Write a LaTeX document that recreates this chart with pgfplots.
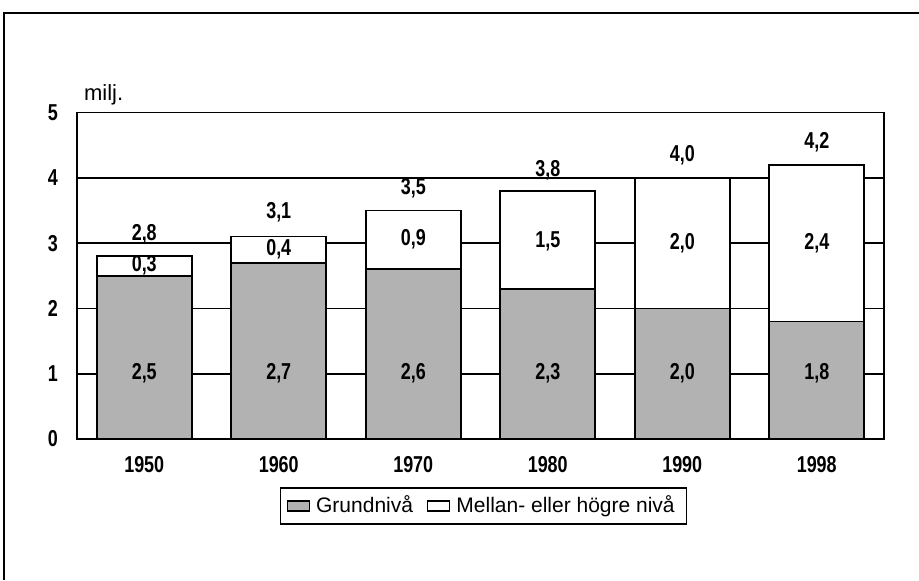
\documentclass[border=0pt]{standalone}
\usepackage{fontspec}
\setmainfont{Liberation Sans}
\newfontfamily\condfont{Liberation Sans}[FakeStretch=0.78]
\usepackage{pgfplots}
\usepackage{pgfplotstable}
\pgfplotsset{compat=1.18}
\definecolor{grund}{RGB}{178,178,178}
\tikzset{lbl/.style={font=\condfont\fontsize{11.5}{13}\selectfont\bfseries}}

% x: 0=1950 ... 5=1998, values in millions
\pgfplotstableread{
x grund mellan
0 2.5 0.3
1 2.7 0.4
2 2.6 0.9
3 2.3 1.5
4 2.0 2.0
5 1.8 2.4
}\utbdata

\begin{document}
\begin{tikzpicture}
\useasboundingbox (0,0) rectangle (459.5pt,290pt);
\draw[line width=1pt] (2pt,0pt) -- (2pt,283.5pt) -- (459.5pt,283.5pt);

\begin{axis}[
    at={(38.5pt,70.5pt)}, anchor=south west,
    scale only axis,
    width=403.5pt, height=163.25pt,
    ybar stacked,
    bar width=0.706,
    xmin=-0.5, xmax=5.5,
    ymin=0, ymax=5,
    xtick=data,
    xticklabels={1950,1960,1970,1980,1990,1998},
    ytick={0,1,2,3,4,5},
    major tick length=0pt,
    ymajorgrids,
    grid style={black, line width=0.9pt},
    axis line style={line width=0.9pt},
    tick label style={font=\condfont\fontsize{11.5}{13}\selectfont\bfseries},
    /pgf/number format/assume math mode=true,
    xticklabel style={yshift=-5pt},
    yticklabel style={xshift=-6pt},
    legend columns=2,
    legend style={at={(0.504,-0.205)}, anchor=center, draw=black,
        line width=0.7pt, inner xsep=3pt, inner ysep=2pt,
        font=\fontsize{10.5}{12}\selectfont,
        nodes={inner xsep=3pt},
        /tikz/every even column/.append style={column sep=4pt}},
    legend image code/.code={\draw[#1, line width=0.7pt] (0pt,-2.5pt) rectangle (11pt,2.5pt);},
]
\addplot[fill=grund, draw=black, line width=0.9pt] table[x=x, y=grund] {\utbdata};
\addplot[fill=white, draw=black, line width=0.9pt] table[x=x, y=mellan] {\utbdata};
\legend{Grundnivå, Mellan- eller högre nivå}
\end{axis}

\node[anchor=base west, font=\fontsize{11}{12}\selectfont]
    at (38.5pt,240pt) {milj.};

% segment and total labels, in axis units (x: 67.25pt, y: 32.65pt)
\begin{scope}[shift={(72.125pt,70.5pt)}, x=67.25pt, y=32.65pt]
\node[lbl] at (0,1) {2,5};
\node[lbl] at (1,1) {2,7};
\node[lbl] at (2,1) {2,6};
\node[lbl] at (3,1) {2,3};
\node[lbl] at (4,1) {2,0};
\node[lbl] at (5,1) {1,8};
\node[lbl] at (0,2.66) {0,3};
\node[lbl] at (1,2.9) {0,4};
\node[lbl] at (2,3.06) {0,9};
\node[lbl] at (3,3.03) {1,5};
\node[lbl] at (4,3.0) {2,0};
\node[lbl] at (5,3.0) {2,4};
\node[lbl] at (0,3.14) {2,8};
\node[lbl] at (1,3.47) {3,1};
\node[lbl] at (2,3.84) {3,5};
\node[lbl] at (3,4.12) {3,8};
\node[lbl] at (4,4.35) {4,0};
\node[lbl] at (5,4.54) {4,2};
\end{scope}
\end{tikzpicture}
\end{document}
